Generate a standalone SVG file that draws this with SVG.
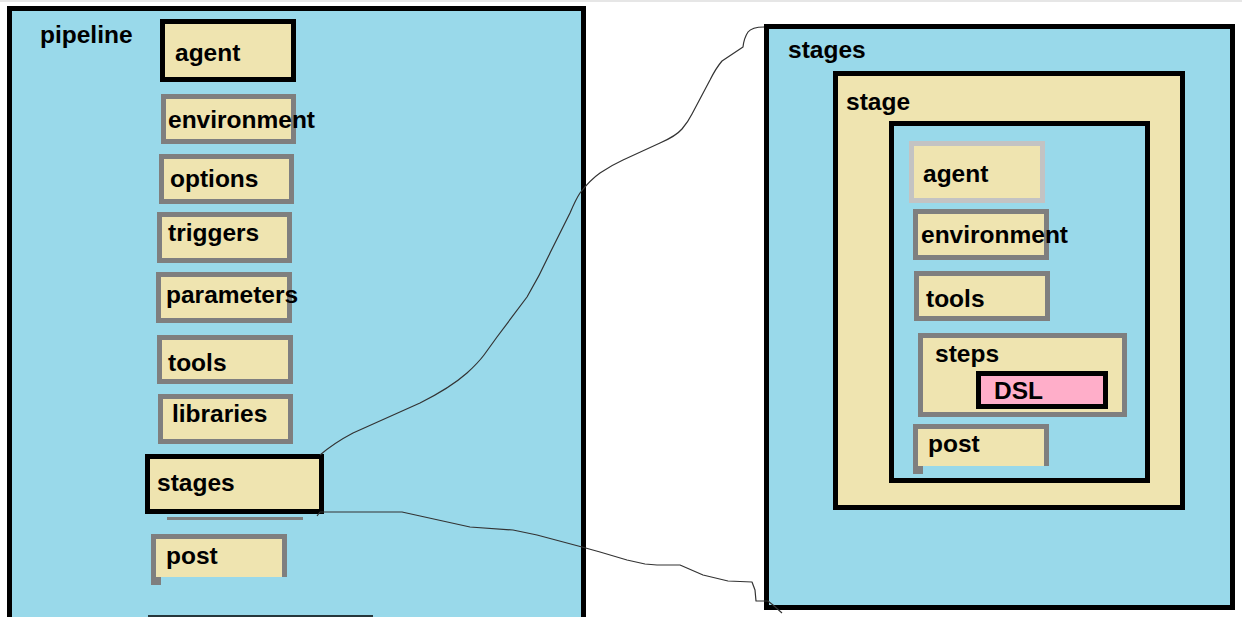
<svg xmlns="http://www.w3.org/2000/svg" width="1242" height="617" viewBox="0 0 1242 617">
<style>
.t{font-family:"Liberation Sans",Arial,sans-serif;font-weight:bold;font-size:24.5px;fill:#000}
.blue{fill:#99D9EA}
.bk{fill:#EFE4B0;stroke:#000;stroke-width:5}
.gr{fill:#EFE4B0;stroke:#7F7F7F;stroke-width:5}
.lg{fill:#EFE4B0;stroke:#C3C3C3;stroke-width:5}
.conn{fill:none;stroke:#333;stroke-width:1.2;stroke-linejoin:round}
</style>
<rect x="0" y="0" width="1242" height="617" fill="#fff"/>
<rect x="0" y="0" width="1242" height="2" fill="#E6E6E6"/>

<g id="pipeline">
  <rect class="blue" x="7" y="6" width="579" height="611"/>
  <path d="M9.5,617 V8.5 H583.5 V617" fill="none" stroke="#000" stroke-width="5"/>
  <line x1="148" y1="616" x2="373" y2="616" stroke="#000" stroke-width="1.5"/>
  <text class="t" x="40" y="43">pipeline</text>
</g>
<g id="p-agent">
  <rect class="bk" x="162.5" y="21.5" width="131" height="58"/>
  <text class="t" x="175" y="61">agent</text>
</g>
<g id="p-environment">
  <rect class="gr" x="163.5" y="96.5" width="130" height="45"/>
  <text class="t" x="168" y="128">environment</text>
</g>
<g id="p-options">
  <rect class="gr" x="161.5" y="156.5" width="130" height="45"/>
  <text class="t" x="170" y="187">options</text>
</g>
<g id="p-triggers">
  <rect class="gr" x="159.5" y="214.5" width="130" height="46"/>
  <text class="t" x="168" y="241">triggers</text>
</g>
<g id="p-parameters">
  <rect class="gr" x="158.5" y="274.5" width="131" height="46"/>
  <text class="t" x="166" y="303">parameters</text>
</g>
<g id="p-tools">
  <rect class="gr" x="159.5" y="337.5" width="131" height="44"/>
  <text class="t" x="168" y="371">tools</text>
</g>
<g id="p-libraries">
  <rect class="gr" x="160.5" y="396.5" width="130" height="45"/>
  <text class="t" x="172" y="422">libraries</text>
</g>
<g id="p-stages">
  <rect class="bk" x="147.5" y="456.5" width="174" height="55"/>
  <line x1="167" y1="518.5" x2="303" y2="518.5" stroke="#7F7F7F" stroke-width="3"/>
  <text class="t" x="157" y="491">stages</text>
</g>
<g id="p-post">
  <rect x="156" y="539" width="126" height="38" fill="#EFE4B0"/>
  <path d="M153.5,585 V536.5 H284.5 V577" fill="none" stroke="#7F7F7F" stroke-width="5"/>
  <rect x="156" y="577" width="5" height="8" fill="#7F7F7F"/>
  <text class="t" x="166" y="564">post</text>
</g>

<g id="stages-detail">
  <rect x="766.5" y="26.5" width="466" height="581" fill="#99D9EA" stroke="#000" stroke-width="5"/>
  <text class="t" x="788" y="58">stages</text>
</g>
<g id="stage">
  <rect class="bk" x="835.5" y="73.5" width="347" height="434"/>
  <text class="t" x="846" y="110">stage</text>
</g>
<g id="stage-body">
  <rect x="891.5" y="123.5" width="256" height="357" fill="#99D9EA" stroke="#000" stroke-width="5"/>
</g>
<g id="s-agent">
  <rect class="lg" x="911.5" y="143.5" width="131" height="57"/>
  <text class="t" x="923" y="182">agent</text>
</g>
<g id="s-environment">
  <rect class="gr" x="915.5" y="211.5" width="131" height="46"/>
  <text class="t" x="921" y="243">environment</text>
</g>
<g id="s-tools">
  <rect class="gr" x="916.5" y="273.5" width="131" height="45"/>
  <text class="t" x="926" y="307">tools</text>
</g>
<g id="s-steps">
  <rect class="gr" x="920.5" y="335.5" width="204" height="79"/>
  <text class="t" x="935" y="362">steps</text>
</g>
<g id="s-dsl">
  <rect x="978.5" y="373.5" width="127" height="33" fill="#FFAEC9" stroke="#000" stroke-width="5"/>
  <text class="t" x="994" y="399">DSL</text>
</g>
<g id="s-post">
  <rect x="918" y="429" width="126" height="37" fill="#EFE4B0"/>
  <path d="M915.5,474 V426.5 H1046.5 V466" fill="none" stroke="#7F7F7F" stroke-width="5"/>
  <rect x="918" y="466" width="5" height="8" fill="#7F7F7F"/>
  <text class="t" x="928" y="452">post</text>
</g>

<g id="connectors">
  <path class="conn" d="M320,455 Q334,443 353,433 L420,403 Q450,388 467,373 Q478,363 484,355 L497,337 L527,297 Q540,275 550,253 L570,213 Q576,199 580,193 Q590,180 600,173 Q612,165 623,160 L660,143 Q676,136 682,129 Q688,122 692,114 L710,80 Q716,68 722,61 L743,47 Q744,38 748,32 Q752,27 764,27"/>
  <path class="conn" d="M317,516 L320,512 L402,512 L470,527 L513,530 L537,535 L582,547 L600,552 L627,560 L645,564 L657,565 L680,565 L703,575 L728,581 L752,582 L755,590 L756,601 L768,601 L773,605 L782,613"/>
</g>
</svg>
